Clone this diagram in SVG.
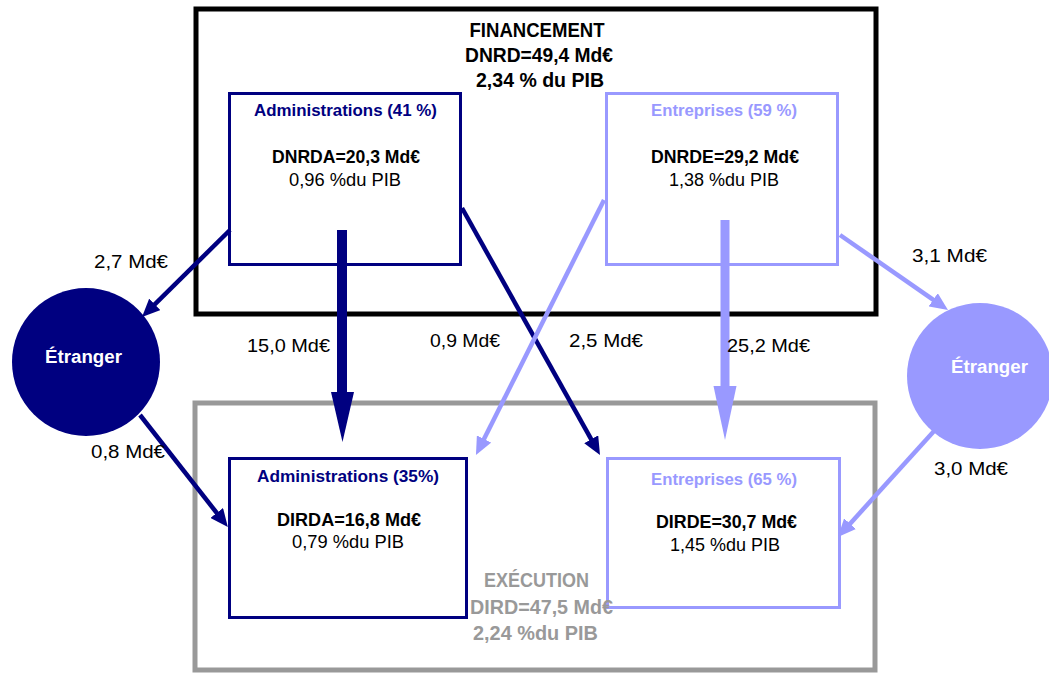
<svg xmlns="http://www.w3.org/2000/svg" width="1049" height="674" viewBox="0 0 1049 674">
<style>
text{font-family:"Liberation Sans",Arial,sans-serif;text-anchor:middle}
.b{font-weight:bold}
.t{font-size:20px;font-weight:bold}
.h{font-size:17px;font-weight:bold}
.v{font-size:18px;font-weight:bold;fill:#000}
.p{font-size:18px;fill:#000}
.l{font-size:19px;fill:#000}
.navy{fill:#000080}
.lite{fill:#9999FF}
.gray{fill:#999999}
.dn{stroke:#000080;stroke-width:4.5;fill:none}
.dl{stroke:#9999FF;stroke-width:4.5;fill:none}
</style>
<defs>
<marker id="an" viewBox="0 0 18 16" markerWidth="18" markerHeight="16" refX="9" refY="8" orient="auto" markerUnits="userSpaceOnUse"><path d="M0,0 L18,8 L0,16 z" fill="#000080"/></marker>
<marker id="al" viewBox="0 0 18 16" markerWidth="18" markerHeight="16" refX="9" refY="8" orient="auto" markerUnits="userSpaceOnUse"><path d="M0,0 L18,8 L0,16 z" fill="#9999FF"/></marker>
</defs>
<rect width="1049" height="674" fill="#fff"/>
<g id="financement">
<rect x="196" y="9" width="680" height="305" fill="#fff" stroke="#000" stroke-width="5"/>
<text class="t" x="537" y="37" textLength="135" lengthAdjust="spacingAndGlyphs">FINANCEMENT</text>
<text class="t" x="539" y="62" textLength="148" lengthAdjust="spacingAndGlyphs">DNRD=49,4 Md€</text>
<text class="t" x="540" y="87" textLength="128" lengthAdjust="spacingAndGlyphs">2,34 % du PIB</text>
</g>
<g id="execution-box">
<rect x="195" y="403" width="680" height="267" fill="#fff" stroke="#999999" stroke-width="5"/>
</g>
<g id="admin-fin">
<rect x="229.5" y="93.5" width="231" height="171" fill="#fff" stroke="#000080" stroke-width="3"/>
<text class="h navy" x="345.5" y="116" textLength="183" lengthAdjust="spacingAndGlyphs">Administrations (41 %)</text>
<text class="v" x="346" y="163" textLength="148" lengthAdjust="spacingAndGlyphs">DNRDA=20,3 Md€</text>
<text class="p" x="345" y="186" textLength="112" lengthAdjust="spacingAndGlyphs">0,96 %du PIB</text>
</g>
<g id="entr-fin">
<rect x="606.5" y="93.5" width="231" height="171" fill="#fff" stroke="#9999FF" stroke-width="3"/>
<text class="h lite" x="724" y="116" textLength="146" lengthAdjust="spacingAndGlyphs">Entreprises (59 %)</text>
<text class="v" x="725" y="163" textLength="148" lengthAdjust="spacingAndGlyphs">DNRDE=29,2 Md€</text>
<text class="p" x="724" y="186" textLength="110" lengthAdjust="spacingAndGlyphs">1,38 %du PIB</text>
</g>
<g id="admin-exe">
<rect x="229.5" y="458.5" width="237" height="159" fill="#fff" stroke="#000080" stroke-width="3"/>
<text class="h navy" x="348" y="482" textLength="182" lengthAdjust="spacingAndGlyphs">Administrations (35%)</text>
<text class="v" x="349" y="526" textLength="144" lengthAdjust="spacingAndGlyphs">DIRDA=16,8 Md€</text>
<text class="p" x="348" y="548" textLength="112" lengthAdjust="spacingAndGlyphs">0,79 %du PIB</text>
</g>
<g id="entr-exe">
<rect x="607.5" y="458.5" width="232" height="149" fill="#fff" stroke="#9999FF" stroke-width="3"/>
<text class="h lite" x="724" y="485" textLength="146" lengthAdjust="spacingAndGlyphs">Entreprises (65 %)</text>
<text class="v" x="726.5" y="528" textLength="141" lengthAdjust="spacingAndGlyphs">DIRDE=30,7 Md€</text>
<text class="p" x="725" y="551" textLength="110" lengthAdjust="spacingAndGlyphs">1,45 %du PIB</text>
</g>
<g id="execution-label">
<text class="t gray" x="536.5" y="587" textLength="105" lengthAdjust="spacingAndGlyphs">EXÉCUTION</text>
<text class="t gray" x="541.5" y="614" textLength="143" lengthAdjust="spacingAndGlyphs">DIRD=47,5 Md€</text>
<text class="t gray" x="535.5" y="640" textLength="125" lengthAdjust="spacingAndGlyphs">2,24 %du PIB</text>
</g>
<g id="connectors">
<line class="dn" x1="230" y1="230" x2="148.4" y2="310.7" marker-end="url(#an)"/>
<line class="dn" x1="140" y1="415" x2="222.3" y2="520" marker-end="url(#an)"/>
<rect x="337" y="230" width="10" height="166" fill="#000080"/>
<polygon points="331,392 354,392 342.5,442" fill="#000080"/>
<line class="dn" x1="462" y1="208" x2="595.6" y2="447.1" marker-end="url(#an)"/>
<line class="dl" x1="604" y1="200" x2="480" y2="447" marker-end="url(#al)"/>
<rect x="720.5" y="220" width="9" height="170" fill="#9999FF"/>
<polygon points="713.5,386 736.5,386 725,440" fill="#9999FF"/>
<line class="dl" x1="840" y1="235" x2="940.6" y2="304.9" marker-end="url(#al)"/>
<line class="dl" x1="935" y1="430" x2="844" y2="530.4" marker-end="url(#al)"/>
<text class="l" x="131" y="268" textLength="74" lengthAdjust="spacingAndGlyphs">2,7 Md€</text>
<text class="l" x="128" y="458" textLength="74" lengthAdjust="spacingAndGlyphs">0,8 Md€</text>
<text class="l" x="288.5" y="352" textLength="83" lengthAdjust="spacingAndGlyphs">15,0 Md€</text>
<text class="l" x="465" y="347" textLength="70" lengthAdjust="spacingAndGlyphs">0,9 Md€</text>
<text class="l" x="606" y="347" textLength="74" lengthAdjust="spacingAndGlyphs">2,5 Md€</text>
<text class="l" x="768.5" y="352" textLength="83" lengthAdjust="spacingAndGlyphs">25,2 Md€</text>
<text class="l" x="949.5" y="262" textLength="75" lengthAdjust="spacingAndGlyphs">3,1 Md€</text>
<text class="l" x="971" y="475" textLength="74" lengthAdjust="spacingAndGlyphs">3,0 Md€</text>
</g>
<g id="etranger-left">
<circle cx="86" cy="362" r="74" fill="#000080"/>
<text class="b" x="83.5" y="363" font-size="18" fill="#fff" textLength="77" lengthAdjust="spacingAndGlyphs">Étranger</text>
</g>
<g id="etranger-right">
<circle cx="980" cy="376" r="73" fill="#9999FF"/>
<text class="b" x="989.5" y="373" font-size="18" fill="#fff" textLength="77" lengthAdjust="spacingAndGlyphs">Étranger</text>
</g>
</svg>
